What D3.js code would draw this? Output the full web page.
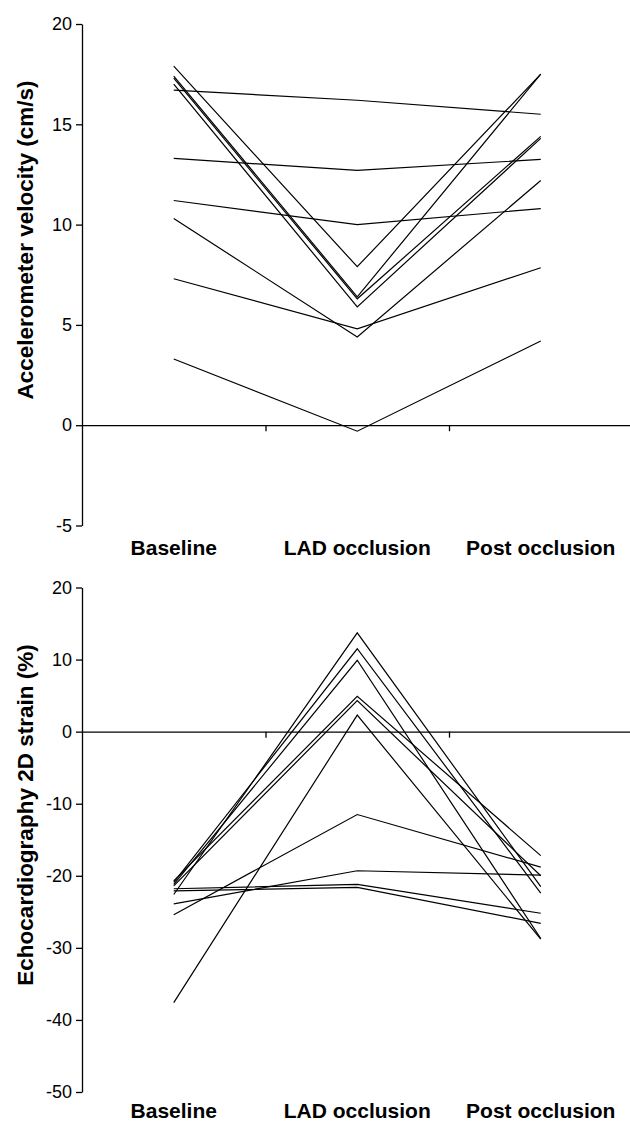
<!DOCTYPE html>
<html>
<head>
<meta charset="utf-8">
<script src="https://cdn.jsdelivr.net/npm/d3@7"></script>
<style>
  body { margin: 0; background: #fff; }
  svg text { font-family: "Liberation Sans", Arial, sans-serif; fill: #000; }
</style>
</head>
<body>
<div id="chart"></div>
<script>
// categories shared by both panels
const categories = ["Baseline", "LAD occlusion", "Post occlusion"];

// top panel: accelerometer velocity (cm/s), one array per animal
const accelSeries = [
  [17.9, 7.9, 17.5],
  [17.4, 6.4, 17.5],
  [17.3, 6.3, 14.4],
  [17.0, 5.9, 14.3],
  [16.7, 16.2, 15.5],
  [13.3, 12.7, 13.25],
  [11.2, 10.0, 10.8],
  [10.3, 4.4, 12.2],
  [7.3, 4.8, 7.85],
  [3.3, -0.3, 4.2]
];
const accelTicks = [-5, 0, 5, 10, 15, 20];

// bottom panel: echocardiography 2D strain (%)
const strainSeries = [
  [-22.6, 13.7, -21.5],
  [-20.9, 11.5, -22.4],
  [-21.2, 9.9, -28.7],
  [-20.7, 4.9, -17.2],
  [-21.4, 4.3, -20.0],
  [-37.6, 2.3, -28.8],
  [-25.4, -11.5, -18.8],
  [-23.9, -19.3, -19.9],
  [-21.8, -21.2, -25.2],
  [-22.1, -21.6, -26.6]
];
const strainTicks = [-50, -40, -30, -20, -10, 0, 10, 20];

const W = 630, H = 1127;
const svg = d3.select("#chart").append("svg")
  .attr("width", W)
  .attr("height", H);

function drawPanel(opts) {
  const left = 82, right = 632.5;
  const y = d3.scaleLinear()
    .domain([d3.min(opts.ticks), d3.max(opts.ticks)])
    .range([opts.bottom, opts.top]);

  const xBand = d3.scaleBand()
    .domain(categories)
    .range([left, right])
    .padding(0);
  const xEdge = d3.scaleLinear()
    .domain([0, categories.length])
    .range([left, right]);
  const cx = c => xBand(c) + xBand.bandwidth() / 2;

  const g = svg.append("g");

  // zero line with tick marks between categories
  g.append("g")
    .attr("transform", `translate(0,${y(0)})`)
    .call(d3.axisBottom(xEdge).tickValues([1, 2, 3]).tickFormat("").tickSize(6).tickSizeOuter(0))
    .call(a => a.selectAll("path, line").attr("stroke", "#000").attr("stroke-width", 1.3));

  // y axis (plain hyphen for negatives, like the original)
  g.append("g")
    .attr("transform", `translate(${left},0)`)
    .call(d3.axisLeft(y).tickValues(opts.ticks).tickFormat(d => String(d))
      .tickSize(6).tickSizeOuter(0).tickPadding(4))
    .call(a => a.selectAll("path, line").attr("stroke", "#000").attr("stroke-width", 1.3))
    .call(a => a.selectAll("text").style("font-size", "18px").attr("fill", "#000"));

  // data lines
  const line = d3.line()
    .x((d, i) => cx(categories[i]))
    .y(d => y(d));
  g.selectAll(".series")
    .data(opts.series)
    .enter()
    .append("path")
    .attr("class", "series")
    .attr("d", line)
    .attr("fill", "none")
    .attr("stroke", "#000")
    .attr("stroke-width", 1.2);

  // category labels
  g.selectAll(".cat")
    .data(categories)
    .enter()
    .append("text")
    .attr("class", "cat")
    .attr("x", d => cx(d))
    .attr("y", opts.labelY)
    .attr("text-anchor", "middle")
    .style("font-size", "21px")
    .style("font-weight", "bold")
    .text(d => d);

  // y title
  g.append("text")
    .attr("transform", `translate(${opts.titleX},${opts.titleY}) rotate(-90)`)
    .attr("text-anchor", "middle")
    .style("font-size", "22.5px")
    .style("font-weight", "bold")
    .text(opts.title);
}

drawPanel({
  series: accelSeries,
  ticks: accelTicks,
  top: 24,
  bottom: 525.5,
  labelY: 555,
  title: "Accelerometer velocity (cm/s)",
  titleX: 33,
  titleY: 240
});

drawPanel({
  series: strainSeries,
  ticks: strainTicks,
  top: 587.5,
  bottom: 1092,
  labelY: 1118,
  title: "Echocardiography 2D strain (%)",
  titleX: 33,
  titleY: 815
});
</script>
</body>
</html>
